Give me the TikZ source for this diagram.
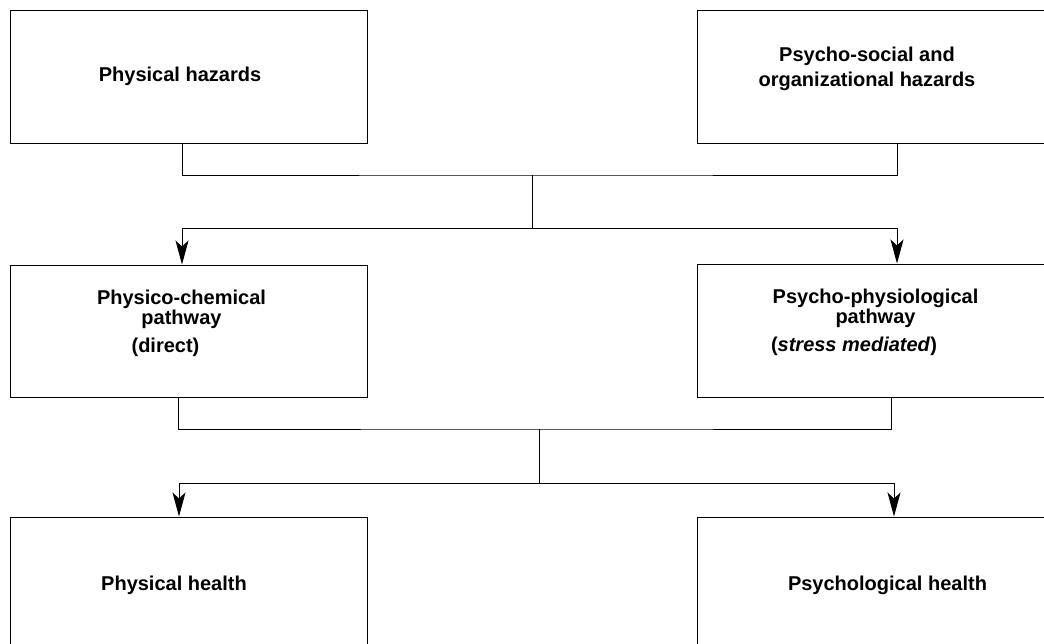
\documentclass[tikz,border=0pt]{standalone}
\usepackage{fontspec}
\setmainfont{Liberation Sans}
\usetikzlibrary{arrows.meta}
\tikzset{
  box/.style={draw, line width=1pt, minimum width=357pt, align=center,
    inner sep=0pt, font=\fontsize{20}{20}\selectfont\bfseries},
  link/.style={line width=1pt},
  arr/.style={link, -{Stealth[length=24pt,width=13pt,inset=6pt]}}
}
% a line of text pushed left by half of #1
\newcommand{\txtshift}[2]{\hbox{#2\hskip#1}}
\begin{document}
\begin{tikzpicture}[x=1pt,y=-1pt]
\useasboundingbox (0,0) rectangle (1044,643);
\clip (0,0) rectangle (1044,643);
% hazards
\node[box, minimum height=133pt] (physhaz) at (188.5,76.5) {\txtshift{17pt}{Physical hazards}};
\node[box, minimum height=133pt] (psyhaz) at (875.5,76.5) {\txtshift{17pt}{Psycho-social and}\\[5pt]\txtshift{17pt}{organizational hazards}\\[0pt]\mbox{}};
% pathways
\node[box, minimum height=132pt] (physpath) at (188.5,331) {\txtshift{14pt}{Physico-chemical}\\\txtshift{14pt}{pathway}\\[8pt]\txtshift{46pt}{(direct)}\\[0pt]\mbox{}};
\node[box, minimum height=133pt] (psypath) at (875.5,330.5) {Psycho-physiological\\pathway\\[8pt]\txtshift{43pt}{(\textit{stress mediated})}\\[0pt]\mbox{}};
% health
\node[box, minimum height=136pt] (physhealth) at (188.5,585) {\txtshift{29pt}{Physical health}};
\node[box, minimum height=136pt] (psyhealth) at (875.5,585) {\hspace*{24pt}Psychological health};
% joins
\coordinate (topjoin) at (532,175);
\coordinate (topsplit) at (532,228);
\coordinate (lowjoin) at (539,429);
\coordinate (lowsplit) at (539,483);
\draw[link] (physhaz.south -| 182,0) |- (topjoin) -| (psyhaz.south -| 897,0);
\draw[link] (topjoin) -- (topsplit);
\draw[arr] (topsplit) -| (physpath.north -| 182,0);
\draw[arr] (topsplit) -| (psypath.north -| 897,0);
\draw[link] (physpath.south -| 178,0) |- (lowjoin) -| (psypath.south -| 891,0);
\draw[link] (lowjoin) -- (lowsplit);
\draw[arr] (lowsplit) -| (physhealth.north -| 179,0);
\draw[arr] (lowsplit) -| (psyhealth.north -| 894,0);
\end{tikzpicture}
\end{document}
